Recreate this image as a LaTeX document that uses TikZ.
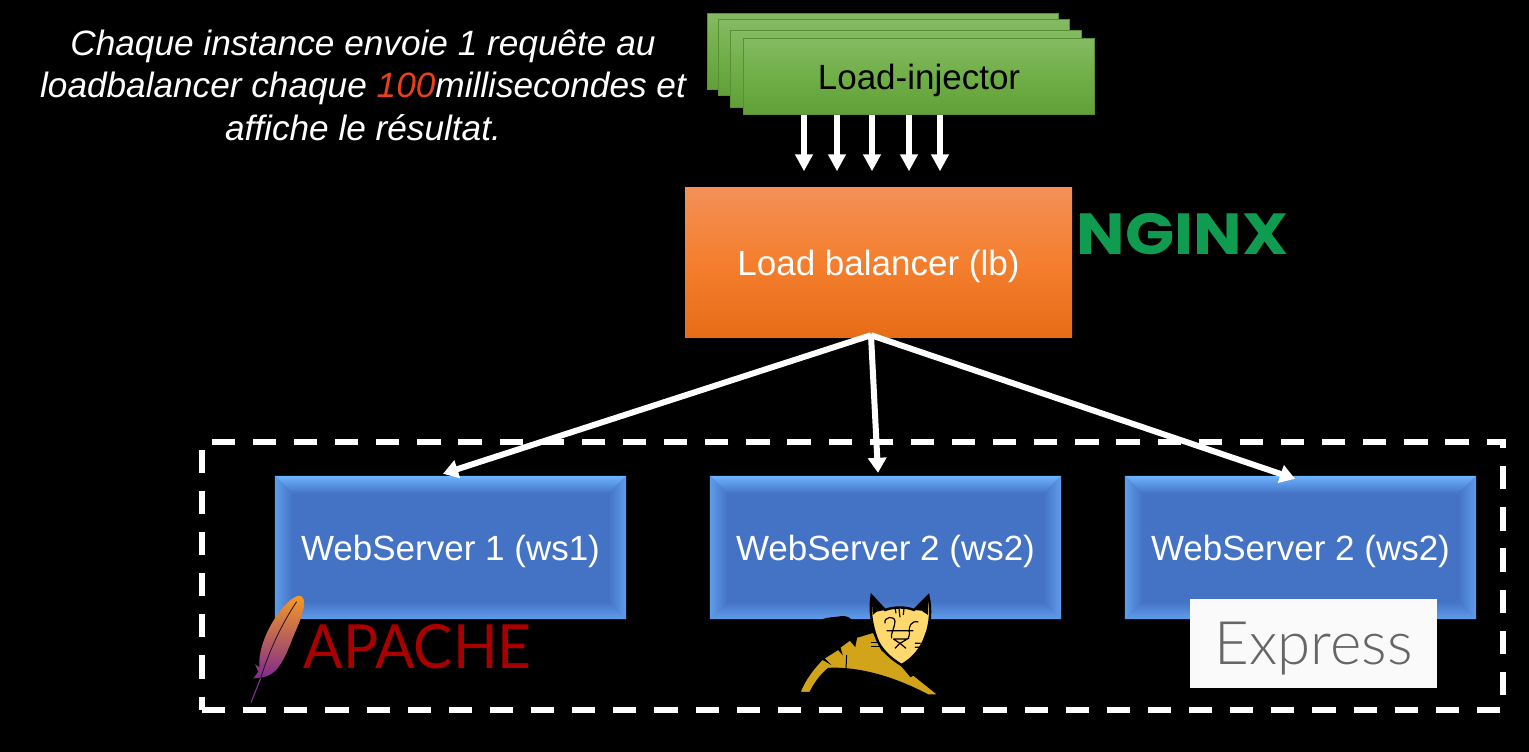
\documentclass[tikz,border=0pt]{standalone}
\usepackage{fontspec}
\setmainfont{Liberation Sans}
\newfontfamily\logofont{Poppins}
\newfontfamily\thinfont{Lato Light}
\newfontfamily\apachefont{Lato}
\usetikzlibrary{arrows.meta}
\definecolor{wsblue}{HTML}{4472C4}
\definecolor{wshi}{HTML}{6DB3FF}
\definecolor{wsmid}{HTML}{5F9DEB}
\definecolor{gtop}{HTML}{84BB63}
\definecolor{gmid}{HTML}{70AE47}
\definecolor{gbot}{HTML}{619F38}
\definecolor{gedge}{HTML}{5A8F36}
\definecolor{otop}{HTML}{F49058}
\definecolor{omid}{HTML}{F47F2E}
\definecolor{obot}{HTML}{E86C17}
\definecolor{nginxgreen}{HTML}{0F9B50}
\definecolor{apachered}{HTML}{A80000}
\definecolor{featherA}{HTML}{F69923}
\definecolor{featherB}{HTML}{CE2E3C}
\definecolor{featherC}{HTML}{7E2B8E}
\definecolor{catbody}{HTML}{D1A41A}
\definecolor{catface}{HTML}{FFD86E}
\definecolor{expbg}{HTML}{FAFAFA}
\definecolor{expink}{HTML}{666666}
\tikzset{
  x=1pt,y=-1pt,
  label35/.style={font=\fontsize{35}{40}\selectfont,text height=26pt,text depth=0pt},
  greenbox/.style={draw=gedge,line width=.6pt,minimum width=351pt,minimum height=76.5pt,inner sep=0pt,top color=gtop,bottom color=gbot,middle color=gmid},
  lbbox/.style={label35,minimum width=387pt,minimum height=150pt,inner sep=0pt,top color=otop,bottom color=obot,middle color=omid,text=white},
  wsbox/.style={label35,minimum width=351pt,minimum height=143pt,inner sep=0pt,fill=wsblue,text=white},
  flow/.style={draw=white,line width=5.5pt,-{Triangle[width=17pt,length=17pt]}},
  link/.style={draw=white,line width=6pt,-{Triangle[width=18pt,length=15pt]}},
  zone/.style={draw=white,line width=6pt,dash pattern=on 23.2pt off 17.925pt},
}
\newcommand\wsbevel[1]{%
  \shade[top color=wshi,bottom color=wsblue] (#1.north west) -- (#1.north east) -- ([xshift=-18pt,yshift=-18pt]#1.north east) -- ([xshift=18pt,yshift=-18pt]#1.north west) -- cycle;
  \shade[top color=wsblue,bottom color=wsmid] (#1.south west) -- (#1.south east) -- ([xshift=-18pt,yshift=18pt]#1.south east) -- ([xshift=18pt,yshift=18pt]#1.south west) -- cycle;
  \shade[left color=wsmid,right color=wsblue] (#1.north west) -- (#1.south west) -- ([xshift=18pt,yshift=18pt]#1.south west) -- ([xshift=18pt,yshift=-18pt]#1.north west) -- cycle;
  \shade[right color=wsmid,left color=wsblue] (#1.north east) -- (#1.south east) -- ([xshift=-18pt,yshift=18pt]#1.south east) -- ([xshift=-18pt,yshift=-18pt]#1.north east) -- cycle;
}
\begin{document}
\begin{tikzpicture}
\useasboundingbox (0,0) rectangle (1529,752);
\fill[black] (0,0) rectangle (1529,752);

% dashed zone
\coordinate (zbl) at (202,710);
\coordinate (zbr) at (1503,710);
\coordinate (ztr) at (1503,441.5);
\coordinate (ztl) at (202,441.5);
\draw[zone] (zbl) -- (zbr) -- (ztr) -- (ztl) -- cycle;

% caption
\node[inner sep=0pt,text=white,align=center,font=\fontsize{35.2}{42.5}\selectfont\itshape] (cap) at (363,85)
  {Chaque instance envoie 1 requête au\\loadbalancer chaque \textcolor[HTML]{E8401C}{100}millisecondes et\\affiche le résultat.};

% load injectors
\node[greenbox] (li1) at (882.5,51.5) {};
\node[greenbox] (li2) at (894,57.5) {};
\node[greenbox] (li3) at (905.5,69) {};
\node[greenbox,label35,text=black] (li4) at (919,76.5) {Load-injector};

% load balancer
\node[lbbox] (lb) at (878.5,262) {Load balancer (lb)};
\node[inner sep=0pt,text=nginxgreen,font=\logofont\bfseries\fontsize{58}{58}\selectfont,text height=44pt,text depth=0pt,xscale=1.113] (nginx) at (1182.5,232) {NGINX};

% arrows injector -> lb
\foreach \a/\b in {-115/-74.5,-82/-41.5,-47/-6.5,-10/30.5,21/61.5}
  \draw[flow,shorten >=15.5pt] ([xshift=\a pt]li4.south) -- ([xshift=\b pt]lb.north);

% web servers
\node[wsbox] (ws1) at (450.5,547.5) {WebServer 1 (ws1)};
\node[wsbox] (ws2) at (885.5,547.5) {WebServer 2 (ws2)};
\node[wsbox] (ws3) at (1300.5,547.5) {WebServer 2 (ws2)};
\wsbevel{ws1}
\wsbevel{ws2}
\wsbevel{ws3}

% arrows lb -> ws
\draw[link] ([xshift=-7.5pt,yshift=2pt]lb.south) -- ([xshift=-7.5pt,yshift=2pt]ws1.north);
\draw[link] ([xshift=-7.5pt,yshift=2pt]lb.south) -- ([xshift=-7.5pt,yshift=3pt]ws2.north);
\draw[link] ([xshift=-7.5pt,yshift=2pt]lb.south) -- ([xshift=-5.5pt,yshift=-3pt]ws3.north);

% apache
\node[inner sep=0pt,text=apachered,font=\apachefont\fontsize{61}{61}\selectfont,text height=44pt,text depth=0pt,xscale=.96] (apache) at (417.5,646) {APACHE};
\begin{scope}[shift={(190,430)},x=.3333pt,y=-.3333pt]
  \shade[top color=featherA,middle color=featherB,bottom color=featherC]
    (325,497) .. controls (340,497) and (345,510) .. (342,530)
    .. controls (335,565) and (322,590) .. (310,620)
    .. controls (298,650) and (285,685) .. (265,712)
    .. controls (250,733) and (225,745) .. (190,745)
    -- (205,725) -- (195,703) -- (208,712)
    .. controls (205,670) and (222,615) .. (255,565)
    .. controls (275,535) and (300,505) .. (325,497) -- cycle;
  \draw[featherC,line width=1.2pt] (212,745) -- (183,818);
  \draw[black!70!featherC,line width=.8pt] (320,515) .. controls (270,590) and (235,670) .. (212,745);
\end{scope}

% tomcat
\begin{scope}[shift={(700,560)},x=.3333pt,y=-.3333pt]
  \fill[black] (365,178) .. controls (385,170) and (410,172) .. (425,168) .. controls (440,168) and (450,172) .. (455,180) -- cycle;
  \draw[black,line width=1pt,fill=catbody]
    (300,397) .. controls (315,360) and (340,325) .. (368,298)
    -- (385,308) -- (372,295) -- (415,268) -- (425,280) -- (420,262)
    -- (450,240) -- (465,258) -- (470,232) -- (520,217)
    -- (545,270) -- (605,318) -- (632,350)
    -- (640,345) -- (715,405) -- (685,405)
    .. controls (600,360) and (490,320) .. (385,325)
    .. controls (360,345) and (340,375) .. (330,397) -- cycle;
  \draw[black,line width=1pt] (440,285) -- (437,350);
  \draw[black,line width=1pt] (512,247) -- (545,247) (512,260) -- (545,260);
  \draw[black,line width=2.4pt,fill=catface]
    (515,107) -- (555,150) .. controls (580,140) and (620,140) .. (642,150) -- (685,107)
    .. controls (695,150) and (690,195) .. (678,225)
    .. controls (665,265) and (640,295) .. (605,315)
    .. controls (570,295) and (540,265) .. (530,235)
    .. controls (515,195) and (508,150) .. (515,107) -- cycle;
  \fill[black] (515,107) -- (555,150) -- (530,155) -- (518,165) -- cycle;
  \fill[black] (685,107) -- (642,150) -- (665,152) -- (684,165) -- cycle;
  \draw[black,line width=1.2pt]
    (597,145) -- (600,172) (612,145) -- (610,165) (585,143) -- (588,160)
    (560,212) -- (640,212)
    (555,190) .. controls (550,170) and (585,165) .. (585,185) .. controls (585,200) and (570,225) .. (575,235)
    (655,186) .. controls (635,180) and (625,200) .. (628,215) .. controls (630,225) and (625,235) .. (622,238)
    (580,237) -- (622,237) -- (600,250) -- (580,237)
    (600,250) -- (585,265) (600,250) -- (618,265)
    (645,250) -- (662,250) (645,262) -- (665,262);
\end{scope}

% express
\node[fill=expbg,minimum width=247pt,minimum height=89pt,inner sep=0pt,text=expink,font=\thinfont\fontsize{60}{60}\selectfont,text height=41pt,text depth=0pt] (express) at (1313.5,643.5) {Express};
\end{tikzpicture}
\end{document}
